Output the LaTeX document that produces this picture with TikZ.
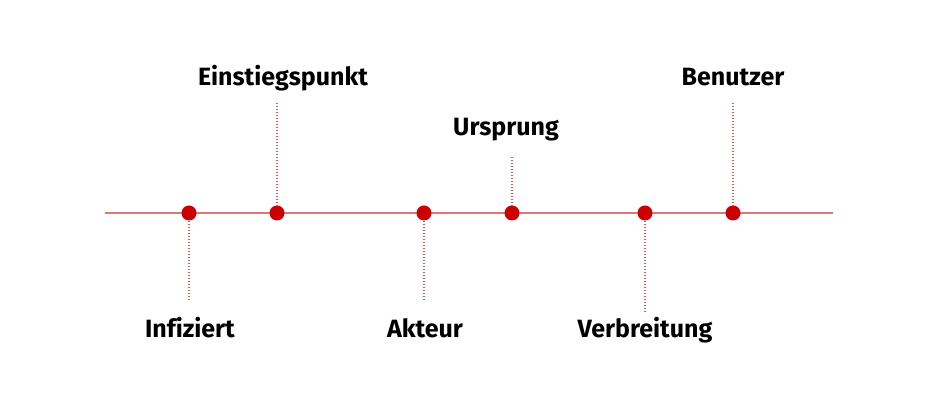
\documentclass[tikz,border=0pt]{standalone}
\usepackage{fontspec}
\setmainfont[Ligatures=NoCommon]{Fira Sans}
\definecolor{axisred}{RGB}{222,120,120}
\definecolor{dotred}{RGB}{204,0,0}
\definecolor{leadred}{RGB}{205,90,90}
\begin{document}
\begin{tikzpicture}[x=1pt,y=1pt,
  evt/.style={circle,fill=dotred,inner sep=0pt,minimum size=15pt},
  lbl/.style={font=\fontsize{25}{27}\selectfont\bfseries,inner sep=0pt,anchor=base},
  lead/.style={draw=leadred,line width=1.3pt,dash pattern=on 1.3pt off 1.7pt},
  axis/.style={draw=axisred,line width=1.8pt}]
\useasboundingbox (0,0) rectangle (938,409);
\coordinate (L) at (105,196);
\coordinate (R) at (833,196);
\draw[axis] (L) -- (R);
\coordinate (e1) at (189,109);
\coordinate (e2) at (277,306);
\coordinate (e3) at (424,109);
\coordinate (e4) at (512,252);
\coordinate (e5) at (645,96);
\coordinate (e6) at (733,306);
\node[evt] (d1) at (189,196) {};
\node[evt] (d2) at (277,196) {};
\node[evt] (d3) at (424,196) {};
\node[evt] (d4) at (512,196) {};
\node[evt] (d5) at (645,196) {};
\node[evt] (d6) at (733,196) {};
\draw[lead] (d1) -- (e1);
\draw[lead] (e2) -- (d2);
\draw[lead] (d3) -- (e3);
\draw[lead] (e4) -- (d4);
\draw[lead] (d5) -- (e5);
\draw[lead] (e6) -- (d6);
\node[lbl] (t1) at (190,71) {Infiziert};
\node[lbl] (t2) at (283,323) {Einstiegspunkt};
\node[lbl] (t3) at (425,71) {Akteur};
\node[lbl] (t4) at (506,273) {Ursprung};
\node[lbl] (t5) at (645,71) {Verbreitung};
\node[lbl] (t6) at (733,323) {Benutzer};
\end{tikzpicture}
\end{document}
